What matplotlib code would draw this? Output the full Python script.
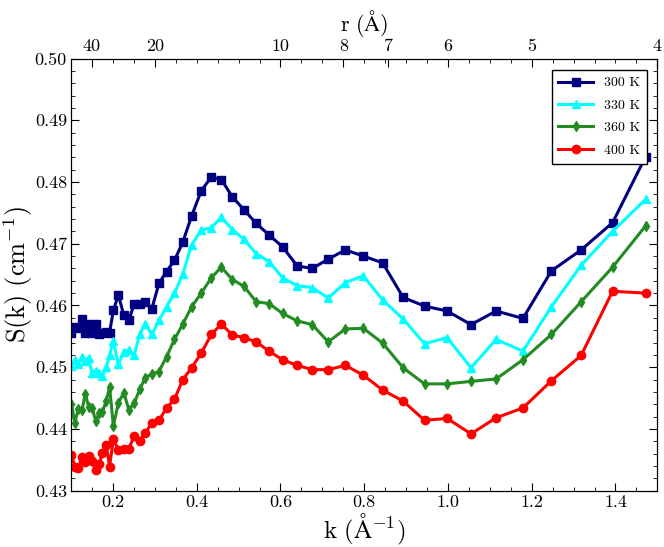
import matplotlib
matplotlib.use('Agg')
from matplotlib import pyplot as plt
from matplotlib.ticker import MultipleLocator, FormatStrFormatter, FixedLocator

plt.rcParams['font.family'] = 'serif'
plt.rcParams['font.serif'] = ['cmr10']
plt.rcParams['mathtext.fontset'] = 'cm'
plt.rcParams['axes.formatter.use_mathtext'] = True

k = [0.101, 0.109, 0.117, 0.126, 0.134, 0.142, 0.150, 0.159, 0.167, 0.175,
     0.184, 0.192, 0.201, 0.213, 0.226, 0.238, 0.251, 0.264, 0.277, 0.293,
     0.310, 0.328, 0.347, 0.367, 0.388, 0.411, 0.435, 0.459, 0.485, 0.513,
     0.542, 0.573, 0.605, 0.640, 0.676, 0.714, 0.755, 0.798, 0.844, 0.893,
     0.944, 0.998, 1.055, 1.115, 1.179, 1.247, 1.318, 1.393, 1.472]

s_300 = [0.4555, 0.4565, 0.4563, 0.4578, 0.4556, 0.4570, 0.4555, 0.4570, 0.4553, 0.4556,
         0.4557, 0.4556, 0.4592, 0.4617, 0.4584, 0.4576, 0.4603, 0.4603, 0.4605, 0.4595,
         0.4636, 0.4655, 0.4673, 0.4703, 0.4745, 0.4786, 0.4808, 0.4804, 0.4776, 0.4755,
         0.4733, 0.4714, 0.4695, 0.4664, 0.4660, 0.4675, 0.4690, 0.4680, 0.4669, 0.4613,
         0.4599, 0.4591, 0.4569, 0.4591, 0.4579, 0.4656, 0.4690, 0.4734, 0.4841]

s_330 = [0.4502, 0.4512, 0.4505, 0.4516, 0.4510, 0.4515, 0.4490, 0.4494, 0.4490, 0.4486,
         0.4500, 0.4520, 0.4542, 0.4505, 0.4525, 0.4528, 0.4520, 0.4553, 0.4570, 0.4553,
         0.4576, 0.4598, 0.4620, 0.4651, 0.4698, 0.4722, 0.4726, 0.4743, 0.4723, 0.4707,
         0.4684, 0.4671, 0.4645, 0.4632, 0.4629, 0.4612, 0.4637, 0.4648, 0.4609, 0.4578,
         0.4538, 0.4548, 0.4499, 0.4545, 0.4526, 0.4598, 0.4665, 0.4720, 0.4772]

s_360 = [0.4440, 0.4410, 0.4432, 0.4430, 0.4457, 0.4436, 0.4434, 0.4413, 0.4425, 0.4428,
         0.4445, 0.4468, 0.4405, 0.4442, 0.4459, 0.4431, 0.4442, 0.4464, 0.4483, 0.4489,
         0.4493, 0.4517, 0.4545, 0.4570, 0.4598, 0.4620, 0.4645, 0.4662, 0.4642, 0.4631,
         0.4606, 0.4603, 0.4587, 0.4575, 0.4569, 0.4541, 0.4562, 0.4563, 0.4539, 0.4499,
         0.4473, 0.4473, 0.4477, 0.4481, 0.4512, 0.4553, 0.4606, 0.4662, 0.4729]

s_400 = [0.4358, 0.4339, 0.4336, 0.4355, 0.4347, 0.4356, 0.4348, 0.4333, 0.4343, 0.4361,
         0.4374, 0.4339, 0.4384, 0.4366, 0.4368, 0.4368, 0.4389, 0.4381, 0.4393, 0.4410,
         0.4414, 0.4434, 0.4448, 0.4480, 0.4499, 0.4523, 0.4553, 0.4570, 0.4552, 0.4548,
         0.4541, 0.4526, 0.4512, 0.4503, 0.4496, 0.4496, 0.4503, 0.4487, 0.4463, 0.4445,
         0.4414, 0.4417, 0.4392, 0.4418, 0.4434, 0.4478, 0.4519, 0.4623, 0.4620]

r_ticks = [40, 20, 10, 8, 7, 6, 5, 4]

fig = plt.figure(figsize=(6.64, 5.47), dpi=100)
ax = fig.add_axes([0.107, 0.103, 0.883, 0.79])

ax.plot(k, s_300, color='navy', marker='s', ms=6, lw=2.2, label='300 K')
ax.plot(k, s_330, color='cyan', marker='^', ms=6, lw=2.2, label='330 K')
ax.plot(k, s_360, color='forestgreen', marker='d', ms=5, lw=2.2, label='360 K')
ax.plot(k, s_400, color='red', marker='o', ms=6, lw=2.2, label='400 K')

ax.set_xlim(0.1, 1.5)
ax.set_ylim(0.43, 0.50)
ax.xaxis.set_major_locator(MultipleLocator(0.2))
ax.xaxis.set_minor_locator(MultipleLocator(0.05))
ax.xaxis.set_major_formatter(FormatStrFormatter('%.1f'))
ax.yaxis.set_major_locator(MultipleLocator(0.01))
ax.yaxis.set_minor_locator(MultipleLocator(0.002))
ax.yaxis.set_major_formatter(FormatStrFormatter('%.2f'))
ax.tick_params(which='both', direction='in', right=True, labelsize=13, pad=3)
ax.tick_params(which='major', length=6)
ax.tick_params(which='minor', length=3)

ax.set_xlabel(r'$\mathrm{k\ (\AA^{-1})}$', fontsize=18, labelpad=1)
ax.set_ylabel(r'$\mathrm{S(k)\ (cm^{-1})}$', fontsize=19, labelpad=0)

# top axis: r = 6/k
ax2 = ax.twiny()
ax2.set_xlim(ax.get_xlim())
ax2.xaxis.set_major_locator(FixedLocator([6.0 / r for r in r_ticks]))
ax2.set_xticklabels([str(r) for r in r_ticks])
ax2.xaxis.set_minor_locator(MultipleLocator(0.05))
ax2.tick_params(which='both', direction='in', labelsize=13, pad=3)
ax2.tick_params(which='major', length=6)
ax2.tick_params(which='minor', length=3)
ax2.set_xlabel(r'$\mathrm{r\ (\AA)}$', fontsize=16, labelpad=6)

leg = ax.legend(loc='upper right', fontsize=10, fancybox=False, framealpha=1,
                edgecolor='black', handlelength=2.5, borderpad=0.5, labelspacing=0.7,
                bbox_to_anchor=(0.995, 0.99))
leg.get_frame().set_linewidth(1.0)

plt.savefig('out.png', dpi=100)
